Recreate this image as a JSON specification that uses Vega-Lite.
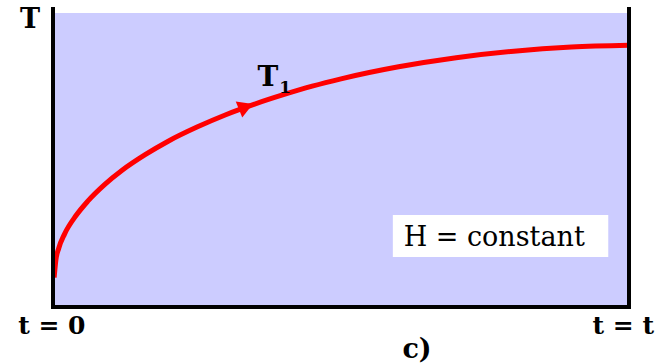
{
  "$schema": "https://vega.github.io/schema/vega-lite/v6.json",
  "width": 576,
  "height": 294,
  "autosize": {"type": "none"},
  "padding": {"left": 53, "top": 13, "right": 34, "bottom": 57},
  "background": "white",
  "config": {"view": {"fill": "#ccccff", "stroke": null}},
  "datasets": {
    "curve": [
      {"t": 0.002, "T": 0.100},
      {"t": 0.005, "T": 0.160},
      {"t": 0.010, "T": 0.200},
      {"t": 0.020, "T": 0.248},
      {"t": 0.040, "T": 0.311},
      {"t": 0.060, "T": 0.359},
      {"t": 0.090, "T": 0.417},
      {"t": 0.120, "T": 0.465},
      {"t": 0.160, "T": 0.518},
      {"t": 0.200, "T": 0.564},
      {"t": 0.250, "T": 0.612},
      {"t": 0.300, "T": 0.654},
      {"t": 0.350, "T": 0.690},
      {"t": 0.400, "T": 0.722},
      {"t": 0.450, "T": 0.751},
      {"t": 0.500, "T": 0.776},
      {"t": 0.600, "T": 0.817},
      {"t": 0.700, "T": 0.848},
      {"t": 0.800, "T": 0.870},
      {"t": 0.900, "T": 0.884},
      {"t": 1.000, "T": 0.890}
    ],
    "vlines": [
      {"x": 0, "y": 0, "y2": 1.02},
      {"x": 1, "y": 0, "y2": 1.02}
    ],
    "hline": [{"x": 0, "x2": 1, "y": 0}],
    "box": [{"x": 0.590, "x2": 0.964, "y": 0.170, "y2": 0.313}],
    "arrow": [{"x": 0.335, "y": 0.681}],
    "boldLabels": [
      {"x": -0.040, "y": 0.976, "label": "T", "size": 27},
      {"x": -0.002, "y": -0.065, "label": "t = 0", "size": 25},
      {"x": 0.990, "y": -0.065, "label": "t = t", "size": 25},
      {"x": 0.632, "y": -0.146, "label": "c)", "size": 27},
      {"x": 0.373, "y": 0.779, "label": "T", "size": 28},
      {"x": 0.403, "y": 0.745, "label": "1", "size": 17}
    ],
    "plainLabels": [{"x": 0.766, "y": 0.235, "label": "H = constant"}]
  },
  "layer": [
    {
      "data": {"name": "box"},
      "mark": {"type": "rect", "color": "white"},
      "encoding": {
        "x": {"field": "x", "type": "quantitative", "scale": {"domain": [0, 1], "nice": false, "zero": false}, "axis": null},
        "x2": {"field": "x2"},
        "y": {"field": "y", "type": "quantitative", "scale": {"domain": [0, 1], "nice": false, "zero": false}, "axis": null},
        "y2": {"field": "y2"}
      }
    },
    {
      "data": {"name": "curve"},
      "mark": {"type": "line", "color": "#ff0000", "strokeWidth": 5, "interpolate": "monotone", "strokeCap": "butt"},
      "encoding": {
        "x": {"field": "t", "type": "quantitative"},
        "y": {"field": "T", "type": "quantitative"}
      }
    },
    {
      "data": {"name": "arrow"},
      "mark": {"type": "point", "shape": "triangle-right", "filled": true, "color": "#ff0000", "opacity": 1, "size": 300, "angle": 338},
      "encoding": {
        "x": {"field": "x", "type": "quantitative"},
        "y": {"field": "y", "type": "quantitative"}
      }
    },
    {
      "data": {"name": "vlines"},
      "mark": {"type": "rule", "color": "black", "strokeWidth": 4},
      "encoding": {
        "x": {"field": "x", "type": "quantitative"},
        "y": {"field": "y", "type": "quantitative"},
        "y2": {"field": "y2"}
      }
    },
    {
      "data": {"name": "hline"},
      "mark": {"type": "rule", "color": "black", "strokeWidth": 4, "strokeCap": "square"},
      "encoding": {
        "x": {"field": "x", "type": "quantitative"},
        "x2": {"field": "x2"},
        "y": {"field": "y", "type": "quantitative"}
      }
    },
    {
      "data": {"name": "boldLabels"},
      "mark": {"type": "text", "font": "DejaVu Serif", "fontWeight": "bold", "color": "black", "align": "center", "baseline": "middle"},
      "encoding": {
        "x": {"field": "x", "type": "quantitative"},
        "y": {"field": "y", "type": "quantitative"},
        "text": {"field": "label"},
        "size": {"field": "size", "type": "quantitative", "scale": null}
      }
    },
    {
      "data": {"name": "plainLabels"},
      "mark": {"type": "text", "font": "DejaVu Serif", "fontSize": 27, "color": "black", "align": "center", "baseline": "middle"},
      "encoding": {
        "x": {"field": "x", "type": "quantitative"},
        "y": {"field": "y", "type": "quantitative"},
        "text": {"field": "label"}
      }
    }
  ]
}
